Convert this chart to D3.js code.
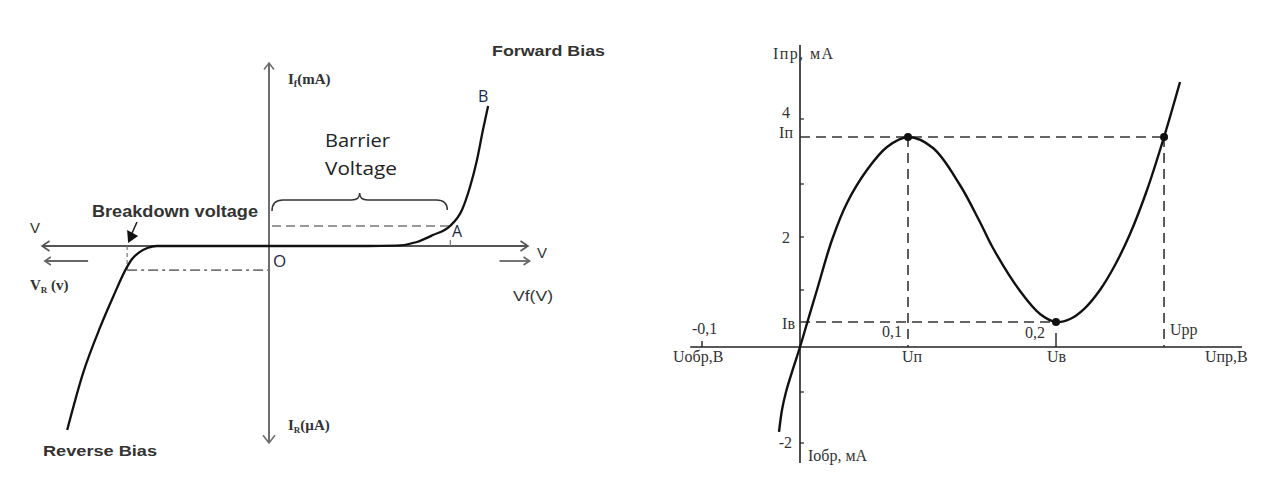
<!DOCTYPE html>
<html><head><meta charset="utf-8">
<script src="https://cdn.jsdelivr.net/npm/d3@7"></script>
<style>body{margin:0;background:#fff}</style>
</head><body><svg id="c" width="1288" height="483"></svg>
<script>
// ---------------- LEFT: diode V-I characteristic ----------------
const leftVoltDomain = [-64, 0, 1];      // reverse volts | forward volts
const leftCurrDomain = [-50, 0, 25];     // reverse µA | forward mA
const forwardV = [0, 0.2, 0.38, 0.49, 0.571, 0.633, 0.699, 0.745, 0.776, 0.803, 0.826, 0.846];
const forwardI = [0, 0, 0, 0.05, 0.55, 1.5, 2.73, 4.92, 8.06, 11.75, 15.85, 19.13];
const reverseV = [-56.9, -52.4, -47.6, -44, -40.2, -38.6, -36.6, -34.3, -31.6, -20, 0];
const reverseI = [-46.7, -32.2, -20.6, -13, -5.6, -3.3, -1.6, -0.5, 0, 0, 0];
const pointA = [0.7, 2.73];
const pointB = [0.846, 19.13];
const breakdownPt = [-40, -6.1];

// ---------------- RIGHT: tunnel diode characteristic ----------------
const rightUTicks = [-0.1, 0, 0.1, 0.2];
const rightITicks = [-2, -1, 0, 1, 2, 3, 4];
const rightUExtent = [-0.112, 0.3257];
const rightIExtent = [-2.39, 5.14];
const tdU = [-0.0214, -0.0184, -0.0143, -0.0082, 0, 0.0074, 0.0157, 0.0296, 0.0435, 0.062, 0.0806, 0.1, 0.1169, 0.1351, 0.1486, 0.1574, 0.1757, 0.1892, 0.2, 0.2095, 0.2196, 0.2297, 0.2399, 0.25, 0.2615, 0.273, 0.2838];
const tdI = [-1.784, -1.353, -1, -0.556, 0, 0.474, 1, 1.943, 2.642, 3.215, 3.569, 3.723, 3.554, 2.981, 2.283, 1.792, 0.982, 0.579, 0.439, 0.491, 0.684, 1, 1.472, 2.057, 2.887, 3.723, 4.569];
const peakU = 0.1, peakI = 3.723;
const valleyU = 0.2, valleyI = 0.439;
const uPP = 0.273;

const svg = d3.select("#c");

// ===== LEFT =====
const xL = d3.scaleLinear().domain(leftVoltDomain).range([42, 269, 528]);
const yL = d3.scaleLinear().domain(leftCurrDomain).range([443, 246, 63]);
const gL = svg.append("g");
const axisGray = "#6e6e6e";
const x0 = xL(0), y0 = yL(0);

function chevron(g, x, y, dir, s, color, w) {
  let p;
  if (dir === "up") p = [[x - s, y + s * 1.3], [x, y], [x + s, y + s * 1.3]];
  if (dir === "down") p = [[x - s, y - s * 1.3], [x, y], [x + s, y - s * 1.3]];
  if (dir === "left") p = [[x + s * 1.5, y - s], [x, y], [x + s * 1.5, y + s]];
  if (dir === "right") p = [[x - s * 1.5, y - s], [x, y], [x - s * 1.5, y + s]];
  g.append("path").attr("d", d3.line()(p)).attr("fill", "none").attr("stroke", color).attr("stroke-width", w);
}

// vertical axis
gL.append("line").attr("x1", x0).attr("x2", x0).attr("y1", yL(leftCurrDomain[2])).attr("y2", yL(leftCurrDomain[0]))
  .attr("stroke", axisGray).attr("stroke-width", 2);
chevron(gL, x0, yL(leftCurrDomain[2]), "up", 5, axisGray, 1.6);
chevron(gL, x0, yL(leftCurrDomain[0]), "down", 6, axisGray, 1.6);
// horizontal axis
gL.append("line").attr("x1", xL(leftVoltDomain[0])).attr("x2", xL(leftVoltDomain[2])).attr("y1", y0).attr("y2", y0)
  .attr("stroke", "#555").attr("stroke-width", 1.8);
chevron(gL, xL(leftVoltDomain[0]), y0, "left", 5, "#555", 1.6);
chevron(gL, xL(leftVoltDomain[2]), y0, "right", 5, "#555", 1.6);
// secondary direction arrows
gL.append("line").attr("x1", xL(-51)).attr("x2", xL(-63.2)).attr("y1", y0 + 15).attr("y2", y0 + 15).attr("stroke", "#666").attr("stroke-width", 1.8);
chevron(gL, xL(-63.2), y0 + 15, "left", 4, "#666", 1.6);
gL.append("line").attr("x1", xL(0.89)).attr("x2", xL(1.006)).attr("y1", y0 + 15).attr("y2", y0 + 15).attr("stroke", "#666").attr("stroke-width", 1.8);
chevron(gL, xL(1.006), y0 + 15, "right", 4, "#666", 1.6);

// dashed line to A
gL.append("line").attr("x1", x0 + 3).attr("x2", xL(pointA[0])).attr("y1", yL(pointA[1])).attr("y2", yL(pointA[1]))
  .attr("stroke", "#777").attr("stroke-width", 1.6).attr("stroke-dasharray", "9,5");
gL.append("line").attr("x1", xL(pointA[0])).attr("x2", xL(pointA[0])).attr("y1", y0 - 6).attr("y2", y0)
  .attr("stroke", "#777").attr("stroke-width", 1.2);
// breakdown dash-dot lines
gL.append("line").attr("x1", xL(breakdownPt[0])).attr("x2", x0 + 3).attr("y1", yL(breakdownPt[1])).attr("y2", yL(breakdownPt[1]))
  .attr("stroke", "#777").attr("stroke-width", 1.8).attr("stroke-dasharray", "10,4,3,4");
gL.append("line").attr("x1", xL(breakdownPt[0])).attr("x2", xL(breakdownPt[0])).attr("y1", y0).attr("y2", yL(breakdownPt[1]))
  .attr("stroke", "#777").attr("stroke-width", 1.2).attr("stroke-dasharray", "4,3");

// curves
const lineL = d3.line().x(d => xL(d[0])).y(d => yL(d[1])).curve(d3.curveMonotoneX);
gL.append("path").attr("d", lineL(forwardV.map((v, i) => [v, forwardI[i]])))
  .attr("fill", "none").attr("stroke", "#111").attr("stroke-width", 2.3);
gL.append("path").attr("d", lineL(reverseV.map((v, i) => [v, reverseI[i]])))
  .attr("fill", "none").attr("stroke", "#111").attr("stroke-width", 2.3);

// brace over barrier voltage
(function () {
  const xa = x0 + 3, xb = xL(pointA[0]) - 3, xm = (xa + xb) / 2, yb = 200;
  const d = `M${xa},${yb + 11} Q${xa},${yb} ${xa + 11},${yb} L${xm - 8},${yb} Q${xm},${yb} ${xm},${yb - 7} Q${xm},${yb} ${xm + 8},${yb} L${xb - 11},${yb} Q${xb},${yb} ${xb},${yb + 10}`;
  gL.append("path").attr("d", d).attr("fill", "none").attr("stroke", "#333").attr("stroke-width", 1.5);
})();

// breakdown arrow
(function () {
  const tx = xL(breakdownPt[0]) + 1, ty = y0 - 3;
  gL.append("line").attr("x1", 137).attr("y1", 222).attr("x2", tx + 3).attr("y2", ty - 8).attr("stroke", "#222").attr("stroke-width", 1.6);
  gL.append("path").attr("d", `M${tx},${ty} L${tx - 1},${ty - 13} L${tx + 10},${ty - 7} Z`).attr("fill", "#111");
})();

// texts
const sansB = "'Liberation Sans', Arial, sans-serif";
const serif = "'Liberation Serif', 'Times New Roman', serif";
const soft = "'Open Sans', 'Noto Sans', sans-serif";
function txt(g, x, y, s, opts) {
  const t = g.append("text").attr("x", x).attr("y", y).text(s)
    .attr("font-family", opts.f).attr("font-size", opts.s).attr("fill", opts.c || "#222");
  if (opts.w) t.attr("font-weight", opts.w);
  if (opts.a) t.attr("text-anchor", opts.a);
  if (opts.tl) t.attr("textLength", opts.tl).attr("lengthAdjust", "spacingAndGlyphs");
  return t;
}
txt(gL, 492, 56, "Forward Bias", { f: sansB, s: 15, w: "bold", c: "#333", tl: 113 });
txt(gL, 92, 217, "Breakdown voltage", { f: sansB, s: 16, w: "bold", c: "#333", tl: 166 });
txt(gL, 43, 456, "Reverse Bias", { f: sansB, s: 15, w: "bold", c: "#333", tl: 114 });
txt(gL, 30, 233, "V", { f: sansB, s: 15, c: "#333" });
txt(gL, 537, 258, "V", { f: sansB, s: 15, c: "#333" });
txt(gL, 513, 301, "Vf(V)", { f: sansB, s: 15, c: "#333", tl: 40 });
txt(gL, 325, 147, "Barrier", { f: soft, s: 18, c: "#222", tl: 65 });
txt(gL, 325, 175, "Voltage", { f: soft, s: 18, c: "#222", tl: 72 });
txt(gL, 452, 237, "A", { f: soft, s: 16, c: "#1f2a44" });
txt(gL, 478, 102, "B", { f: soft, s: 16, c: "#1f2a44" });
txt(gL, 273, 267, "O", { f: soft, s: 17, c: "#1f2a44" });
(function () {
  const t = gL.append("text").attr("x", 288).attr("y", 84).attr("font-family", serif).attr("font-weight", "bold").attr("font-size", 15).attr("fill", "#333");
  t.append("tspan").text("I");
  t.append("tspan").text("f").attr("font-size", 10).attr("dy", 3);
  t.append("tspan").text("(mA)").attr("dy", -3);
  const t2 = gL.append("text").attr("x", 288).attr("y", 430).attr("font-family", serif).attr("font-weight", "bold").attr("font-size", 15).attr("fill", "#333");
  t2.append("tspan").text("I");
  t2.append("tspan").text("R").attr("font-size", 9).attr("dy", 3);
  t2.append("tspan").text("(µA)").attr("dy", -3);
  const t3 = gL.append("text").attr("x", 30).attr("y", 290).attr("font-family", serif).attr("font-weight", "bold").attr("font-size", 15).attr("fill", "#333");
  t3.append("tspan").text("V");
  t3.append("tspan").text("R").attr("font-size", 9).attr("dy", 3);
  t3.append("tspan").text(" (v)").attr("dy", -3);
})();

// ===== RIGHT =====
const xR = d3.scaleLinear().domain(rightUTicks).range([702, 800, 908, 1056]);
const yR = d3.scaleLinear().domain(rightITicks).range([443, 392, 347, 290, 237, 184, 119]);
const gR = svg.append("g");
const ink = "#222";
const ox = xR(0), oy = yR(0);

gR.append("line").attr("x1", xR(rightUExtent[0])).attr("x2", xR(rightUExtent[1])).attr("y1", oy).attr("y2", oy).attr("stroke", ink).attr("stroke-width", 1.6);
gR.append("line").attr("x1", ox).attr("x2", ox).attr("y1", yR(rightIExtent[0])).attr("y2", yR(rightIExtent[1])).attr("stroke", ink).attr("stroke-width", 1.6);
gR.selectAll(".yt").data(rightITicks.filter(d => d !== 0)).enter().append("line")
  .attr("x1", ox).attr("x2", ox + 4).attr("y1", d => yR(d)).attr("y2", d => yR(d)).attr("stroke", ink).attr("stroke-width", 1.2);
gR.selectAll(".xt").data([rightUTicks[0], rightUTicks[3]]).enter().append("line")
  .attr("x1", d => xR(d)).attr("x2", d => xR(d)).attr("y1", oy).attr("y2", d => oy - (d < 0 ? 6 : 14)).attr("stroke", ink).attr("stroke-width", 1.4);

const dash = "10,6";
function dl(x1, y1, x2, y2) {
  gR.append("line").attr("x1", x1).attr("y1", y1).attr("x2", x2).attr("y2", y2)
    .attr("stroke", "#333").attr("stroke-width", 1.6).attr("stroke-dasharray", dash);
}
dl(ox, yR(peakI), xR(uPP), yR(peakI));
dl(xR(peakU), yR(peakI), xR(peakU), oy);
dl(xR(uPP), yR(peakI), xR(uPP), oy);
dl(ox, yR(valleyI), xR(valleyU), yR(valleyI));

const lineTD = d3.line().x(d => xR(d[0])).y(d => yR(d[1])).curve(d3.curveCatmullRom.alpha(0.5));
gR.append("path").attr("d", lineTD(tdU.map((u, i) => [u, tdI[i]])))
  .attr("fill", "none").attr("stroke", "#111").attr("stroke-width", 2.4);

gR.selectAll(".dot").data([[peakU, peakI], [valleyU, valleyI], [uPP, peakI]]).enter().append("circle")
  .attr("cx", d => xR(d[0])).attr("cy", d => yR(d[1])).attr("r", 4).attr("fill", "#111");

const fs = 16;
function rt(x, y, s, a) { return txt(gR, x, y, s, { f: serif, s: fs, c: "#333", a: a || "start" }); }
rt(773, 59, "Iпр, мА").attr("textLength", 60).attr("lengthAdjust", "spacing");
rt(790, yR(4) - 1, "4", "end");
rt(793, yR(peakI) + 1, "Iп", "end");
rt(790, yR(2) + 6, "2", "end");
rt(795, yR(valleyI) + 7, "Iв", "end");
rt(792, yR(-2) + 5, "-2", "end");
rt(808, 461, "Iобр, мА");
rt(xR(-0.1) - 10, oy - 13, "-0,1");
rt(673, oy + 15, "Uобр,В");
rt(xR(0.1) - 26, oy - 10, "0,1");
rt(xR(0.1) - 6, oy + 15, "Uп");
rt(xR(0.2) - 31, oy - 9, "0,2");
rt(xR(0.2) - 9, oy + 15, "Uв");
rt(xR(uPP) + 6, oy - 12, "Uрр");
rt(1205, oy + 15, "Uпр,В");
</script></body></html>
